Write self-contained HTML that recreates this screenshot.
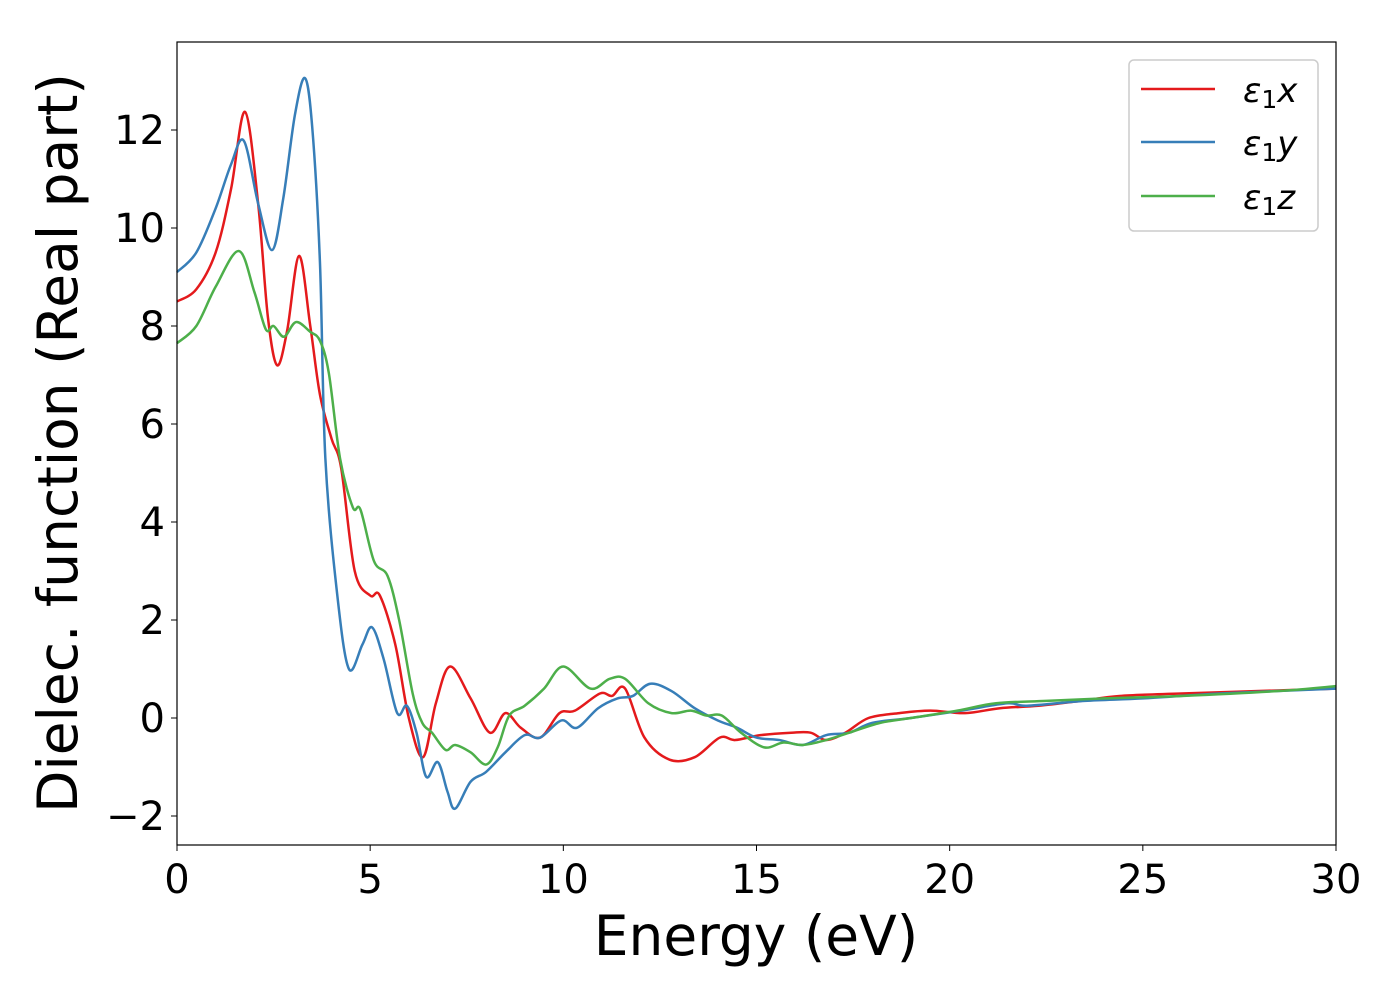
<!DOCTYPE html>
<html><head><meta charset="utf-8"><style>
body{margin:0;background:#fff;font-family:"DejaVu Sans","Liberation Sans",sans-serif;}
</style></head><body>
<svg id="chart" width="1400" height="1000" xmlns="http://www.w3.org/2000/svg">
<rect width="1400" height="1000" fill="#fff"/>
<g id="plot"></g>
<g id="axes"></g>
<text x="756" y="955" font-size="55" text-anchor="middle">Energy (eV)</text>
<text transform="translate(77,443) rotate(-90)" font-size="55" text-anchor="middle">Dielec. function (Real part)</text>
<g>
<rect x="1129" y="60" width="189" height="171" rx="5" fill="#fff" stroke="#ccc" stroke-width="1.5"/>
<line x1="1141" y1="89" x2="1215" y2="89" stroke="#e41a1c" stroke-width="2.5"/>
<line x1="1141" y1="142" x2="1215" y2="142" stroke="#377eb8" stroke-width="2.5"/>
<line x1="1141" y1="196" x2="1215" y2="196" stroke="#4daf4a" stroke-width="2.5"/>
<text x="1243" y="102" font-size="34" font-style="italic">ε<tspan font-style="normal" font-size="25" dy="6">1</tspan><tspan dy="-6">x</tspan></text>
<text x="1243" y="155" font-size="34" font-style="italic">ε<tspan font-style="normal" font-size="25" dy="6">1</tspan><tspan dy="-6">y</tspan></text>
<text x="1243" y="209" font-size="34" font-style="italic">ε<tspan font-style="normal" font-size="25" dy="6">1</tspan><tspan dy="-6">z</tspan></text>
</g>
</svg>
<script>
const xTicks=[0,5,10,15,20,25,30];
const yTicks=[-2,0,2,4,6,8,10,12];
const redX=[0,0.5,1.0,1.4,1.76,2.1,2.35,2.59,2.85,3.16,3.45,3.7,4.0,4.25,4.6,5.0,5.25,5.65,6.0,6.37,6.7,7.07,7.6,8.1,8.5,8.9,9.4,9.9,10.3,10.95,11.26,11.6,12.1,12.75,13.4,14.05,14.45,15.1,15.9,16.4,16.8,17.3,17.9,18.7,19.5,20.4,21.3,22.3,23.4,24.4,26,28,30];
const redY=[8.5,8.75,9.5,10.8,12.37,10.5,8.2,7.2,7.9,9.43,8.0,6.6,5.7,5.1,3.0,2.5,2.5,1.5,0,-0.8,0.3,1.05,0.4,-0.3,0.1,-0.2,-0.4,0.1,0.15,0.5,0.45,0.6,-0.4,-0.85,-0.8,-0.4,-0.45,-0.35,-0.3,-0.3,-0.45,-0.3,0,0.1,0.15,0.1,0.2,0.25,0.35,0.45,0.5,0.55,0.6];
const blueX=[0,0.5,1.0,1.4,1.73,2.1,2.46,2.75,3.05,3.31,3.5,3.7,3.84,4.15,4.45,4.8,5.05,5.35,5.7,5.95,6.2,6.45,6.75,7.0,7.2,7.6,8.0,8.5,9.0,9.4,9.95,10.35,10.9,11.4,11.8,12.25,12.8,13.4,14.0,14.5,15.0,15.6,16.2,16.8,17.4,18.0,19.0,20.3,21.5,22.0,23.5,25,27,30];
const blueY=[9.1,9.5,10.4,11.3,11.78,10.5,9.55,10.6,12.3,13.06,12.06,9.3,5.3,2.5,1.0,1.5,1.85,1.2,0.1,0.25,-0.3,-1.2,-0.9,-1.5,-1.85,-1.3,-1.1,-0.7,-0.35,-0.4,-0.05,-0.2,0.2,0.4,0.45,0.7,0.55,0.2,-0.05,-0.2,-0.4,-0.45,-0.55,-0.35,-0.3,-0.1,0,0.15,0.3,0.25,0.35,0.4,0.5,0.6];
const greenX=[0,0.5,1.0,1.6,2.0,2.3,2.5,2.77,3.08,3.45,3.7,3.93,4.22,4.55,4.75,5.1,5.45,5.75,6.1,6.35,6.6,6.95,7.2,7.6,8.0,8.3,8.6,9.0,9.5,10.0,10.7,11.2,11.6,12.2,12.8,13.3,13.7,14.1,14.6,15.2,15.7,16.2,16.8,17.4,18.2,19.0,20.2,21.2,22.5,24,26,28.5,30];
const greenY=[7.65,8.0,8.8,9.53,8.7,7.93,8.0,7.78,8.08,7.88,7.7,7.04,5.3,4.3,4.25,3.2,2.9,2.0,0.5,-0.1,-0.3,-0.65,-0.55,-0.7,-0.95,-0.6,0.05,0.25,0.6,1.05,0.6,0.8,0.8,0.3,0.1,0.15,0.05,0.05,-0.3,-0.6,-0.5,-0.55,-0.45,-0.3,-0.1,0,0.15,0.3,0.35,0.4,0.45,0.55,0.65];
const L=177,R=1336,T=42,B=845;
const xs=v=>L+(v-0)/(30-0)*(R-L);
const ys=v=>718-v*49;
const NS="http://www.w3.org/2000/svg";
const plot=document.getElementById('plot'),axes=document.getElementById('axes');
function path(X,Y){const p=X.map((x,i)=>[xs(x),ys(Y[i])]);let d="M"+p[0][0]+","+p[0][1];
for(let i=0;i<p.length-1;i++){const p0=p[Math.max(0,i-1)],p1=p[i],p2=p[i+1],p3=p[Math.min(p.length-1,i+2)];
d+=" C"+(p1[0]+(p2[0]-p0[0])/6)+","+(p1[1]+(p2[1]-p0[1])/6)+" "+(p2[0]-(p3[0]-p1[0])/6)+","+(p2[1]-(p3[1]-p1[1])/6)+" "+p2[0]+","+p2[1];}return d;}
function series(X,Y,c,n){const e=document.createElementNS(NS,'path');e.setAttribute('d',path(X,Y));e.setAttribute('fill','none');e.setAttribute('stroke',c);e.setAttribute('stroke-width','2.5');


plot.appendChild(e);}
series(redX,redY,'#e41a1c','series-eps1-x');
series(blueX,blueY,'#377eb8','series-eps1-y');
series(greenX,greenY,'#4daf4a','series-eps1-z');
const fr=document.createElementNS(NS,'rect');fr.setAttribute('x',L);fr.setAttribute('y',T);fr.setAttribute('width',R-L);fr.setAttribute('height',B-T);fr.setAttribute('fill','none');fr.setAttribute('stroke','#000');fr.setAttribute('stroke-width','1.2');


axes.appendChild(fr);
xTicks.forEach(v=>{const l=document.createElementNS(NS,'line');l.setAttribute('x1',xs(v));l.setAttribute('x2',xs(v));l.setAttribute('y1',B);l.setAttribute('y2',B+6);l.setAttribute('stroke','#000');


axes.appendChild(l);
const t=document.createElementNS(NS,'text');t.setAttribute('x',xs(v));t.setAttribute('y',B+48);t.setAttribute('font-size','40');t.setAttribute('text-anchor','middle');t.textContent=v;


axes.appendChild(t);});
yTicks.forEach(v=>{const l=document.createElementNS(NS,'line');l.setAttribute('x1',L-6);l.setAttribute('x2',L);l.setAttribute('y1',ys(v));l.setAttribute('y2',ys(v));l.setAttribute('stroke','#000');


axes.appendChild(l);
const t=document.createElementNS(NS,'text');t.setAttribute('x',L-12);t.setAttribute('y',ys(v)+14);t.setAttribute('font-size','40');t.setAttribute('text-anchor','end');t.textContent=v<0?'−'+Math.abs(v):v;


axes.appendChild(t);});
</script>
</body></html>
